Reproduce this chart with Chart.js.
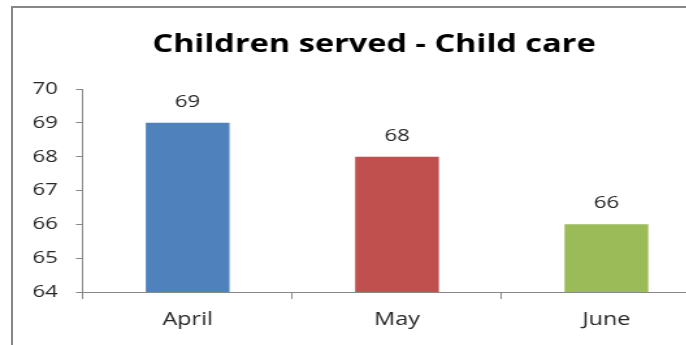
<!DOCTYPE html>
<html>
<head>
<meta charset="utf-8">
<script src="https://cdn.jsdelivr.net/npm/chart.js@4.4.1/dist/chart.umd.min.js"></script>
<style>
  html, body { margin: 0; padding: 0; background: #fff; overflow: hidden; }
  #frame { position: absolute; left: 11px; top: 6px; width: 720px; height: 400px;
           border-left: 2px solid #878787; border-top: 2px solid #878787; }
  #wrap { position: absolute; left: 0; top: 0; width: 600px; height: 345px;
          transform: scaleX(1.3); transform-origin: 0 0; }
</style>
</head>
<body>
<div id="frame"></div>
<div id="wrap"><canvas id="grafico"></canvas></div>
<script>
const titulo = 'Children served - Child care';
const meses = ['April', 'May', 'June'];
const ninos = [69, 68, 66];
const colores = ['#4F81BD', '#C0504D', '#9BBB59'];
const ticksY = [64, 65, 66, 67, 68, 69, 70];

// title centred on the whole (cropped) chart, not on the canvas
const tituloPlugin = {
  id: 'tituloPlugin',
  afterDraw(chart) {
    const ctx = chart.ctx;
    ctx.save();
    ctx.font = 'bold 25px "Open Sans"';
    ctx.fillStyle = '#000';
    ctx.textAlign = 'center';
    ctx.textBaseline = 'alphabetic';
    ctx.fillText(titulo, (chart.chartArea.right + 28.4) / 2, 52);
    ctx.restore();
  }
};

const etiquetas = {
  id: 'etiquetas',
  afterDatasetsDraw(chart) {
    const ctx = chart.ctx;
    ctx.save();
    ctx.font = '17px "Open Sans"';
    ctx.fillStyle = '#262626';
    ctx.textAlign = 'center';
    ctx.textBaseline = 'alphabetic';
    chart.getDatasetMeta(0).data.forEach((bar, i) => {
      ctx.fillText(ninos[i], bar.x, bar.y - 16);
    });
    ctx.restore();
  }
};

const ctx = document.getElementById('grafico').getContext('2d');
new Chart(ctx, {
  type: 'bar',
  data: {
    labels: meses,
    datasets: [{
      label: 'Children served',
      data: ninos,
      backgroundColor: colores,
      barPercentage: 0.4,
      categoryPercentage: 1
    }]
  },
  options: {
    responsive: true,
    maintainAspectRatio: false,
    animation: false,
    layout: { padding: { left: 0, right: 53, top: 89, bottom: 0 } },
    plugins: {
      legend: { display: false },
      tooltip: { enabled: false },
      title: { display: false }
    },
    scales: {
      x: {
        afterFit: s => { s.height = 53; },
        ticks: { color: '#262626', font: { family: 'Open Sans', size: 18 }, padding: 10 },
        grid: { display: true, drawOnChartArea: false, color: '#878787', tickLength: 7 },
        border: { color: '#878787' }
      },
      y: {
        min: 64,
        max: 70,
        afterFit: s => { s.width = 63.8; },
        afterBuildTicks: s => { s.ticks = ticksY.map(v => ({ value: v })); },
        ticks: { color: '#262626', font: { family: 'Open Sans', size: 17 }, padding: 14 },
        grid: { display: true, drawOnChartArea: false, color: '#878787', tickLength: 5.4 },
        border: { color: '#878787' }
      }
    }
  },
  plugins: [etiquetas, tituloPlugin]
});
</script>
</body>
</html>
